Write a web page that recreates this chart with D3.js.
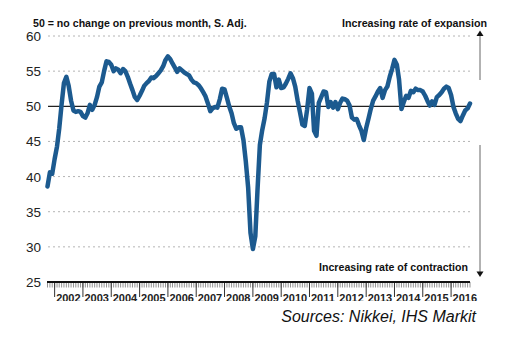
<!DOCTYPE html>
<html>
<head>
<meta charset="utf-8">
<script src="https://cdn.jsdelivr.net/npm/d3@7"></script>
<style>
  body { margin: 0; background: #fff; }
  svg { display: block; font-family: Arial, "Liberation Sans", sans-serif; }
</style>
</head>
<body>
<svg id="chart" width="523" height="342"></svg>
<script>
// Japan manufacturing PMI, monthly, Oct 2001 .. Sep 2016
const firstMonth = new Date(2001, 9, 1);
const pmi = [
  38.6, 40.6, 40.4,
  42.5, 44.3, 46.8, 50.3, 53.3, 54.2, 52.9, 50.8, 49.4, 49.2, 49.3, 49.2,
  48.6, 48.4, 49.0, 50.2, 49.5, 50.2, 51.3, 52.8, 53.4, 55.0, 56.4, 56.3,
  55.9, 55.0, 55.4, 55.2, 54.7, 55.3, 55.0, 54.2, 53.2, 52.3, 51.3, 50.9,
  51.5, 52.2, 52.9, 53.3, 53.6, 54.1, 54.0, 54.3, 54.7, 55.1, 55.7, 56.6,
  57.1, 56.7, 56.1, 55.5, 54.9, 55.4, 55.1, 54.8, 54.6, 54.4, 53.8, 53.4,
  53.3, 53.0, 52.6, 52.0, 51.4, 50.4, 49.3, 49.7, 49.9, 49.8, 51.0, 52.5,
  52.4, 51.2, 50.0, 49.0, 47.6, 46.8, 47.0, 47.0, 45.2, 42.2, 38.4, 32.0,
  29.7, 31.5, 38.0, 44.5, 46.6, 48.3, 50.5, 53.5, 54.6, 54.6, 52.7, 53.8,
  52.6, 52.7, 53.2, 53.9, 54.7, 54.0, 52.8, 50.8, 49.1, 47.4, 47.2, 49.5,
  52.6, 51.8, 46.5, 45.8, 50.5, 51.3, 52.1, 52.0, 49.9, 50.6, 49.8, 50.6,
  49.6, 50.5, 51.1, 51.0, 50.8, 50.1, 48.4, 48.1, 48.2, 47.3, 46.5, 45.2,
  46.9, 48.3, 49.6, 50.8, 51.4, 52.1, 52.6, 51.2, 52.3, 52.8, 54.2, 55.3,
  56.6, 55.9, 53.8, 49.6, 50.6, 51.5, 51.2, 52.2, 52.0, 52.5, 52.3, 52.3,
  52.1, 51.5, 50.8, 50.1, 50.7, 50.2, 51.3, 51.6, 52.0, 52.5, 52.8, 52.6,
  51.6, 49.9, 49.0, 48.2, 47.9, 48.7, 49.4, 49.7, 50.4
];
const yTicks = [25, 30, 35, 40, 45, 50, 55, 60];
const yearLabels = ['2002', '2003', '2004', '2005', '2006', '2007', '2008', '2009',
  '2010', '2011', '2012', '2013', '2014', '2015', '2016'];

const months = pmi.map((v, i) => d3.timeMonth.offset(firstMonth, i));
const svg = d3.select('#chart');

const x = d3.scaleTime()
  .domain([months[0], months[months.length - 1]])
  .range([47.5, 470]);
const y = d3.scaleLinear().domain([25, 60]).range([282, 36]);

// grid
svg.append('g')
  .selectAll('line')
  .data(yTicks.filter(d => d !== 25 && d !== 50))
  .join('line')
  .attr('x1', 48).attr('x2', 470)
  .attr('y1', d => y(d)).attr('y2', d => y(d))
  .attr('stroke', '#b4b4b4')
  .attr('stroke-width', 1)
  .attr('stroke-dasharray', '2,3');

svg.append('line')
  .attr('x1', 48).attr('x2', 470)
  .attr('y1', y(50)).attr('y2', y(50))
  .attr('stroke', '#222')
  .attr('stroke-width', 1.3);

// y labels
svg.append('g')
  .selectAll('text')
  .data(yTicks)
  .join('text')
  .attr('x', 41)
  .attr('y', d => y(d) + 5)
  .attr('text-anchor', 'end')
  .attr('font-size', 13.5)
  .attr('fill', '#222')
  .text(d => d);

// bottom axis with monthly minor ticks
const xAxis = svg.append('g');
xAxis.append('g')
  .selectAll('line')
  .data(months)
  .join('line')
  .attr('x1', d => x(d)).attr('x2', d => x(d))
  .attr('y1', 282).attr('y2', 287.5)
  .attr('stroke', '#777')
  .attr('stroke-width', 0.8);

const yearStarts = yearLabels.map(s => new Date(+s, 0, 1));
xAxis.append('g')
  .selectAll('line')
  .data(yearStarts)
  .join('line')
  .attr('x1', d => x(d)).attr('x2', d => x(d))
  .attr('y1', 282).attr('y2', 297)
  .attr('stroke', '#333')
  .attr('stroke-width', 1);

svg.append('clipPath').attr('id', 'lblclip')
  .append('rect').attr('x', 0).attr('y', 284).attr('width', 523).attr('height', 17);

xAxis.append('g')
  .attr('clip-path', 'url(#lblclip)')
  .selectAll('text')
  .data(yearLabels)
  .join('text')
  .attr('x', (d, i) => x(yearStarts[i]) + 1.5)
  .attr('y', 302)
  .attr('font-size', 11)
  .attr('font-weight', 'bold')
  .attr('fill', '#222')
  .text(d => d);

xAxis.append('line')
  .attr('x1', 47).attr('x2', 470)
  .attr('y1', 282).attr('y2', 282)
  .attr('stroke', '#111')
  .attr('stroke-width', 2);

// PMI line
const line = d3.line()
  .x((d, i) => x(months[i]))
  .y(d => y(d))
  .curve(d3.curveLinear);

svg.append('path')
  .datum(pmi)
  .attr('d', line)
  .attr('fill', 'none')
  .attr('stroke', '#1c5a8f')
  .attr('stroke-width', 4.5)
  .attr('stroke-linejoin', 'round')
  .attr('stroke-linecap', 'round');

// annotations
svg.append('text')
  .attr('x', 33).attr('y', 27)
  .attr('font-size', 10.6).attr('font-weight', 'bold').attr('fill', '#111')
  .text('50 = no change on previous month, S. Adj.');

svg.append('text')
  .attr('x', 487).attr('y', 27)
  .attr('text-anchor', 'end')
  .attr('font-size', 10.7).attr('font-weight', 'bold').attr('fill', '#111')
  .text('Increasing rate of expansion');

svg.append('text')
  .attr('x', 468).attr('y', 271)
  .attr('text-anchor', 'end')
  .attr('font-size', 10.6).attr('font-weight', 'bold').attr('fill', '#111')
  .text('Increasing rate of contraction');

// arrows
svg.append('line')
  .attr('x1', 480).attr('x2', 480).attr('y1', 80).attr('y2', 35)
  .attr('stroke', '#666').attr('stroke-width', 1);
svg.append('path')
  .attr('d', 'M480,30.5 L476.5,36 L483.5,36 Z')
  .attr('fill', '#111');

svg.append('line')
  .attr('x1', 480).attr('x2', 480).attr('y1', 145).attr('y2', 272)
  .attr('stroke', '#666').attr('stroke-width', 1);
svg.append('path')
  .attr('d', 'M480,277 L476.5,271.5 L483.5,271.5 Z')
  .attr('fill', '#111');

svg.append('text')
  .attr('x', 476).attr('y', 322)
  .attr('text-anchor', 'end')
  .attr('font-size', 16).attr('font-style', 'italic').attr('fill', '#111')
  .text('Sources: Nikkei, IHS Markit');
</script>
</body>
</html>
